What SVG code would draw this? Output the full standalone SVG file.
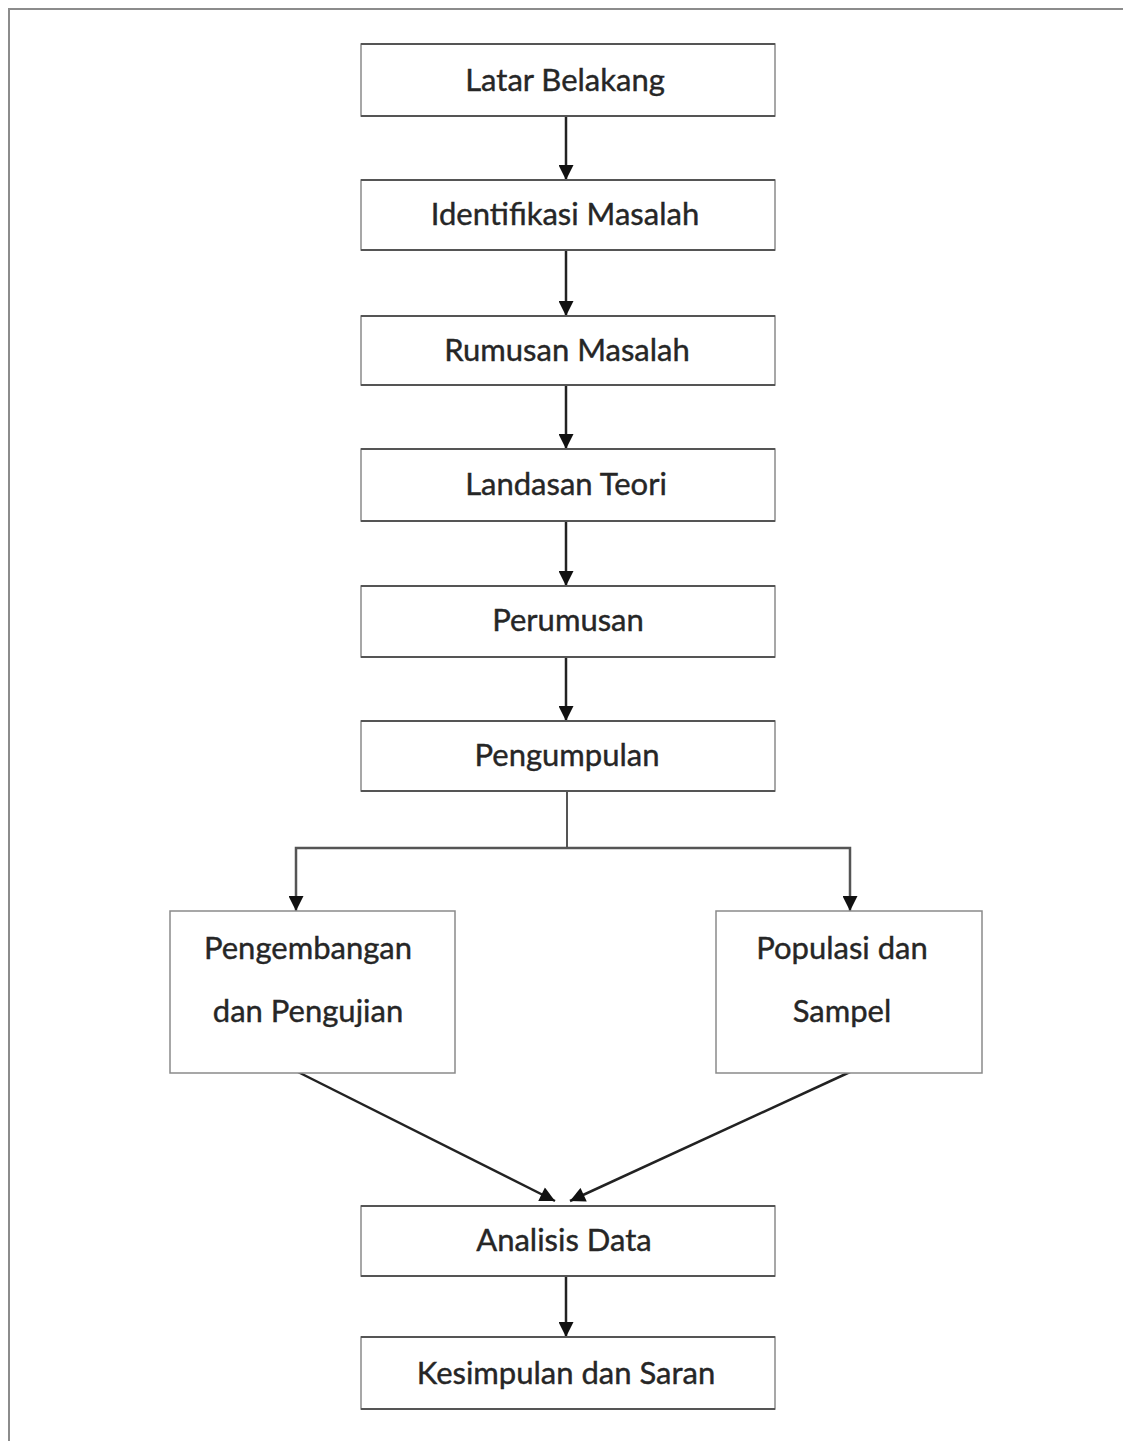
<svg xmlns="http://www.w3.org/2000/svg" width="1123" height="1441" viewBox="0 0 1123 1441">
<style>
.box{fill:#fff;stroke:#8a8a8a;stroke-width:1.5}
.edge{stroke:#555;stroke-width:2}
.lbl{font-family:Lato,"Liberation Sans",sans-serif;font-size:31px;fill:#262626;text-anchor:middle;stroke:#262626;stroke-width:0.4}
.con{fill:none;stroke:#222;stroke-width:2.5}
</style>
<defs>
<marker id="ah" viewBox="0 0 10 10" refX="10" refY="5" markerWidth="6.5" markerHeight="6" markerUnits="strokeWidth" orient="auto">
<path d="M0,0 L10,5 L0,10 Z" fill="#111"/>
</marker>
</defs>
<rect width="1123" height="1441" fill="#fff"/>
<g id="frame">
<path d="M9,1441 L9,9 L1123,9" fill="none" stroke="#8c8c8c" stroke-width="2"/>
</g>
<g id="connectors">
<line class="con" x1="566" y1="116" x2="566" y2="180" marker-end="url(#ah)"/>
<line class="con" x1="566" y1="250" x2="566" y2="316" marker-end="url(#ah)"/>
<line class="con" x1="566" y1="385" x2="566" y2="449" marker-end="url(#ah)"/>
<line class="con" x1="566" y1="521" x2="566" y2="586" marker-end="url(#ah)"/>
<line class="con" x1="566" y1="657" x2="566" y2="721" marker-end="url(#ah)"/>
<line x1="567" y1="791" x2="567" y2="848" stroke="#555" stroke-width="2"/>
<polyline points="567,848 296,848 296,911" fill="none" stroke="#555" stroke-width="2.5" marker-end="url(#ah)"/>
<polyline points="567,848 850,848 850,911" fill="none" stroke="#555" stroke-width="2.5" marker-end="url(#ah)"/>
<line class="con" x1="298" y1="1072" x2="555" y2="1201" marker-end="url(#ah)"/>
<line class="con" x1="850" y1="1072" x2="570" y2="1201" marker-end="url(#ah)"/>
<line class="con" x1="566" y1="1276" x2="566" y2="1337" marker-end="url(#ah)"/>
</g>
<g id="n1">
<rect class="box" x="361" y="44" width="414" height="72"/>
<line class="edge" x1="361" y1="44" x2="775" y2="44"/><line class="edge" x1="361" y1="116" x2="775" y2="116"/>
<text class="lbl" x="565" y="91">Latar Belakang</text>
</g>
<g id="n2">
<rect class="box" x="361" y="180" width="414" height="70"/>
<line class="edge" x1="361" y1="180" x2="775" y2="180"/><line class="edge" x1="361" y1="250" x2="775" y2="250"/>
<text class="lbl" x="565" y="225">Identifikasi Masalah</text>
</g>
<g id="n3">
<rect class="box" x="361" y="316" width="414" height="69"/>
<line class="edge" x1="361" y1="316" x2="775" y2="316"/><line class="edge" x1="361" y1="385" x2="775" y2="385"/>
<text class="lbl" x="567" y="361">Rumusan Masalah</text>
</g>
<g id="n4">
<rect class="box" x="361" y="449" width="414" height="72"/>
<line class="edge" x1="361" y1="449" x2="775" y2="449"/><line class="edge" x1="361" y1="521" x2="775" y2="521"/>
<text class="lbl" x="566" y="495">Landasan Teori</text>
</g>
<g id="n5">
<rect class="box" x="361" y="586" width="414" height="71"/>
<line class="edge" x1="361" y1="586" x2="775" y2="586"/><line class="edge" x1="361" y1="657" x2="775" y2="657"/>
<text class="lbl" x="568" y="631">Perumusan</text>
</g>
<g id="n6">
<rect class="box" x="361" y="721" width="414" height="70"/>
<line class="edge" x1="361" y1="721" x2="775" y2="721"/><line class="edge" x1="361" y1="791" x2="775" y2="791"/>
<text class="lbl" x="567" y="766">Pengumpulan</text>
</g>
<g id="n7">
<rect class="box" x="170" y="911" width="285" height="162" stroke="#777"/>
<text class="lbl" x="308" y="959">Pengembangan</text>
<text class="lbl" x="308" y="1022">dan Pengujian</text>
</g>
<g id="n8">
<rect class="box" x="716" y="911" width="266" height="162" stroke="#777"/>
<text class="lbl" x="842" y="959">Populasi dan</text>
<text class="lbl" x="842" y="1022">Sampel</text>
</g>
<g id="n9">
<rect class="box" x="361" y="1206" width="414" height="70"/>
<line class="edge" x1="361" y1="1206" x2="775" y2="1206"/><line class="edge" x1="361" y1="1276" x2="775" y2="1276"/>
<text class="lbl" x="564" y="1251">Analisis Data</text>
</g>
<g id="n10">
<rect class="box" x="361" y="1337" width="414" height="72"/>
<line class="edge" x1="361" y1="1337" x2="775" y2="1337"/><line class="edge" x1="361" y1="1409" x2="775" y2="1409"/>
<text class="lbl" x="566" y="1384">Kesimpulan dan Saran</text>
</g>
</svg>
